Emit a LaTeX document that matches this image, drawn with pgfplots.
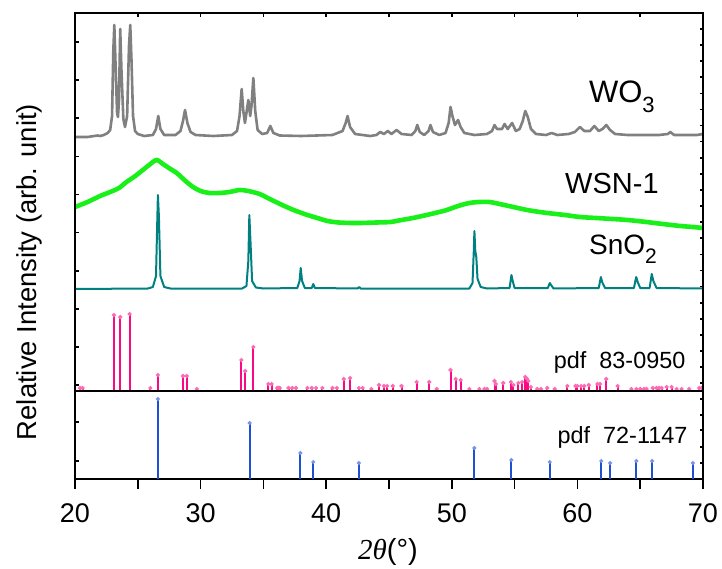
\documentclass[border=0pt]{standalone}
\usepackage{fontspec}
\setmainfont{Liberation Sans}
\newfontfamily\seriffont{Liberation Serif}
\usepackage{pgfplots}
\pgfplotsset{compat=1.18}
\definecolor{woGray}{RGB}{128,128,128}
\definecolor{wsnGreen}{RGB}{25,240,25}
\definecolor{snTeal}{RGB}{0,128,128}
\definecolor{pdfPink}{RGB}{250,10,130}
\definecolor{pdfBlue}{RGB}{30,80,215}
\begin{document}
\begin{tikzpicture}
\path[use as bounding box] (-37.5pt,-88.5pt) rectangle (323.5pt,195.5pt);
\pgfplotsset{common/.style={scale only axis, width=314pt, xmin=20, xmax=70,
  axis line style={line width=1pt}, every tick/.style={black, line width=0.8pt},
  /pgf/number format/assume math mode=true,
  ticklabel style={font=\fontsize{13.5}{15}\selectfont}}}
% ---------------- top axis ----------------
\begin{axis}[common, at={(0,0)}, anchor=south west, height=189pt, ymin=0, ymax=378,
  xtick={20,25,...,70}, xticklabels={}, xtick pos=right,
  ytick={6,44.1,82.2,120.3,158.4,196.5,234.6,272.7,310.8,348.9}, yticklabels={}, ytick pos=left,
  tick align=inside, major tick length=2pt]
% WO3
\addplot[woGray, line width=1.3pt, line join=round] coordinates {
(20.0,254) (21.0,254) (21.8,255.5) (22.0,255) (22.3,256) (22.6,258) (22.8,261) (22.95,275) (23.05,340) (23.13,366)
(23.22,330) (23.35,278) (23.42,274) (23.5,290) (23.6,362) (23.7,320) (23.85,272) (23.98,264) (24.15,275) (24.3,345)
(24.4,366) (24.5,330) (24.62,275) (24.78,260) (25.0,257) (25.5,255) (26.2,256) (26.45,262) (26.63,275) (26.8,262)
(27.1,256) (28.0,256) (28.4,260) (28.6,270) (28.76,281) (28.95,268) (29.2,259) (29.6,256) (31.0,255) (32.5,256)
(32.9,260) (33.1,275) (33.27,302) (33.4,280) (33.53,268) (33.65,278) (33.8,291) (33.95,275) (34.05,285) (34.2,313)
(34.35,280) (34.54,261) (34.9,257) (35.3,258) (35.55,265) (35.8,258) (36.3,255.5) (38,255) (40.5,256) (41.3,260)
(41.55,268) (41.7,275) (41.9,264) (42.3,257) (43.5,255) (44.0,256) (44.3,259) (44.6,257) (44.9,260) (45.2,257)
(45.6,261) (46.0,257) (46.8,256) (47.1,260) (47.25,266) (47.45,259) (47.8,256) (48.15,260) (48.3,266) (48.5,259)
(49.0,256) (49.5,258) (49.75,268) (49.9,284) (50.05,275) (50.25,266) (50.5,271) (50.7,264) (51.0,258) (51.8,256)
(52.8,257) (53.2,260) (53.4,266) (53.6,262) (54.0,262) (54.2,267) (54.45,262) (54.8,268) (55.1,260) (55.4,262)
(55.65,270) (55.85,280) (56.05,274) (56.3,262) (56.7,257) (57.5,256) (57.95,258) (58.4,256) (59.3,257) (59.8,259)
(60.2,264) (60.55,260) (61.0,260) (61.35,265) (61.7,260) (62.0,262) (62.3,266) (62.6,261) (63.0,257) (64,256)
(66.5,256) (67.2,257) (67.4,259) (67.7,256) (69.5,256) (70,257)};
% WSN-1
\addplot[wsnGreen, line width=2.3pt, smooth] coordinates {
(20,184) (21,189) (22,195) (22.8,199) (23.5,203) (24.1,209) (24.8,215) (25.5,222) (26.0,227) (26.5,231)
(27.0,227) (27.6,222) (28.1,218) (28.8,210) (29.4,204) (30.0,200) (30.7,198) (31.5,198) (32.3,199) (33.1,201)
(33.8,200) (34.7,197) (35.5,192) (36.5,186) (37.4,181) (38.5,176) (39.3,173) (40.1,170) (41.0,168.5) (42.0,168)
(42.7,168) (44,168.5) (45.1,169) (46.0,171) (46.9,173) (48.0,176) (49.0,179) (49.6,181) (50.5,185) (51.4,188)
(52.2,189) (53.0,189) (53.8,187) (54.9,184) (56.0,181) (57.0,179) (57.6,178) (59.0,176) (60.2,174) (61.5,173)
(62.8,172) (64.0,171) (65.5,169) (66.8,167) (68.2,165) (69.2,164) (70,163)};
% SnO2
\addplot[snTeal, line width=1pt, line join=round] coordinates {
(20,102) (25.8,102.5) (26.2,104) (26.45,115) (26.55,170) (26.6,196) (26.68,175) (26.8,115) (27.1,104) (27.6,102.5)
(33.3,102.5) (33.65,105) (33.8,130) (33.88,176) (33.97,150) (34.1,110) (34.4,103.5) (35,102.5) (37.7,103) (37.88,110)
(37.97,123) (38.08,110) (38.3,103) (38.85,103) (38.97,107) (39.1,103) (42.5,102.5) (42.62,104) (42.75,102.5) (51.4,102.5)
(51.65,108) (51.75,140) (51.8,160) (51.87,140) (51.95,134) (52.05,112) (52.3,104) (52.8,102.5) (54.6,103) (54.75,116)
(54.85,110) (55.0,103) (57.65,103) (57.8,108) (57.9,106) (58.1,102.5) (61.7,103) (61.87,114) (61.97,109) (62.2,103)
(64.5,103) (64.68,114) (64.8,109) (65.0,103) (65.75,103) (65.92,117) (66.05,110) (66.3,103) (70,102.5)};
% pdf 83-0950
\addplot[pdfPink, ycomb, line width=1pt, mark=*, mark size=0.45pt, mark options={fill=pdfPink!40, draw=pdfPink!60}] coordinates {
(20.4,3) (20.6,3) (23.1,76) (23.6,74) (24.35,77) (26.0,3) (26.6,16) (28.6,15) (28.9,15) (29.7,2)
(33.25,31) (33.55,20) (34.2,44) (35.4,7) (35.65,7) (36.1,3) (36.2,3) (36.3,3) (37.0,3) (37.3,3)
(37.6,3) (38.5,3) (38.85,3) (39.2,3) (39.7,3) (40.5,3) (40.85,3) (41.4,12) (41.9,13) (42.6,3)
(42.9,3) (43.6,2) (44.2,6) (44.6,5) (44.85,5) (45.3,5) (46.0,5) (47.2,9) (48.2,9) (48.8,2)
(49.9,21) (50.3,12) (50.7,11) (51.4,2) (52.2,2) (52.6,2) (52.8,2) (53.4,10) (53.5,7) (54.1,8)
(54.7,9) (54.9,6) (55.3,8) (55.6,9) (55.85,14) (56.0,12) (56.1,10) (56.3,4) (56.8,2) (57.1,2)
(57.6,3) (58.2,2) (59.2,5) (59.85,5) (60.0,5) (60.3,5) (60.55,5) (60.9,6) (61.6,7) (61.8,7)
(62.3,12) (63.2,5) (64.3,2) (64.7,2) (65.0,2) (65.3,2) (65.5,2) (66.0,3) (66.3,3) (66.5,3)
(66.7,3) (67.1,4) (67.5,4) (67.9,2) (68.3,2) (68.9,2) (69.7,3) (69.9,3)};
\node[anchor=base west, font=\fontsize{15.5}{18}\selectfont, inner sep=0pt] at (axis cs:60.9,288) {WO\raisebox{-0.3em}{\fontsize{11}{13}\selectfont 3}};
\node[anchor=base west, font=\fontsize{14.5}{17}\selectfont, inner sep=0pt] at (axis cs:59.0,197) {WSN-1};
\node[anchor=base west, font=\fontsize{14}{17}\selectfont, inner sep=0pt] at (axis cs:60.9,136) {SnO\raisebox{-0.3em}{\fontsize{10.5}{13}\selectfont 2}};
\node[anchor=base west, font=\fontsize{11.7}{14}\selectfont, inner sep=0pt] at (axis cs:58.1,23) {pdf\ \ 83-0950};
\end{axis}
% right minor ticks of top axis
\begin{axis}[common, at={(0,0)}, anchor=south west, height=189pt, ymin=0, ymax=378,
  hide x axis, ytick={7.8,23.9,40.0,56.1,72.2,88.3,104.4,120.5,136.6,152.7,168.8,184.9,201.0,217.1,233.2,249.3,265.4,281.5,297.6,313.7,329.8,345.9,362.0},
  yticklabels={}, ytick pos=right, ytick align=inside, major tick length=1.3pt]
\end{axis}
% ---------------- bottom axis ----------------
\begin{axis}[common, at={(0,-44pt)}, anchor=south west, height=44pt, ymin=0, ymax=88,
  xtick={20,30,...,70}, minor xtick={25,35,...,65}, xtick pos=left, xtick align=outside,
  major tick length=5pt, minor tick length=5pt, ytick=\empty,
  xticklabel style={yshift=-4pt}]
\addplot[pdfBlue, ycomb, line width=1pt, mark=*, mark size=0.4pt, mark options={fill=pdfBlue!40, draw=pdfBlue!60}] coordinates {
(26.6,80) (33.9,56) (37.95,26) (38.97,17) (42.6,16) (51.8,31) (54.75,19) (57.8,17) (61.9,18) (62.6,16)
(64.7,18) (65.95,18) (69.2,16)};
\node[anchor=base west, font=\fontsize{11.7}{14}\selectfont, inner sep=0pt] at (axis cs:58.4,36) {pdf\ \ 72-1147};
\end{axis}
\begin{axis}[common, at={(0,-44pt)}, anchor=south west, height=44pt, ymin=0, ymax=88,
  hide x axis, ytick={18,57}, yticklabels={}, ytick pos=left, ytick align=inside, major tick length=2pt]
\end{axis}
\begin{axis}[common, at={(0,-44pt)}, anchor=south west, height=44pt, ymin=0, ymax=88,
  hide x axis, ytick={16,32,49,64,80}, yticklabels={}, ytick pos=right, ytick align=inside, major tick length=1.3pt]
\end{axis}
% labels
\node[rotate=90, anchor=base, font=\fontsize{13.7}{16}\selectfont] at (-19.5pt,59.5pt) {Relative Intensity (arb. unit)};
\node[font=\fontsize{14.5}{17}\selectfont] at (156.5pt,-80.5pt) {{\seriffont\itshape 2θ}(°)};
\end{tikzpicture}
\end{document}
